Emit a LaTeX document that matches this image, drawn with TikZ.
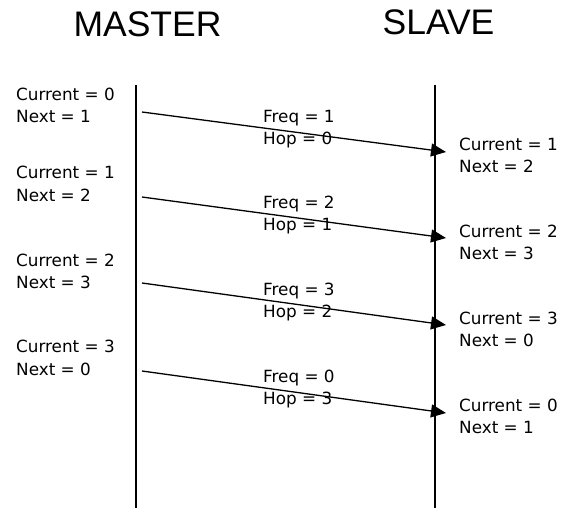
\documentclass[tikz,border=0pt]{standalone}
\usepackage{fontspec}
\setmainfont{DejaVu Sans}
\newfontfamily\titlefont{Liberation Sans}
\usetikzlibrary{arrows.meta}
\begin{document}
\begin{tikzpicture}[x=1pt,y=-1pt,
  lifeline/.style={line width=1.4pt},
  msg/.style={line width=1.3pt,-{Triangle[length=15pt,width=13pt]}},
  title/.style={font=\titlefont\fontsize{35.5}{40}\selectfont,inner sep=0pt,anchor=base},
  lbl/.style={font=\fontsize{16.8}{20}\selectfont,inner sep=0pt,anchor=base west}]
\useasboundingbox (0,0) rectangle (561,508);
% column titles
\node[title] (master) at (147.5,37) {MASTER};
\node[title] (slave) at (438.5,35) {SLAVE};
% lifelines
\coordinate (mtop) at (136,85);
\coordinate (mbot) at (136,508);
\coordinate (stop) at (435,85);
\coordinate (sbot) at (435,508);
\draw[lifeline] (mtop) -- (mbot);
\draw[lifeline] (stop) -- (sbot);
% master state
\node[lbl] (mc0) at (16,100) {Current = 0};
\node[lbl] (mn0) at (16,122) {Next = 1};
\node[lbl] (mc1) at (16,178) {Current = 1};
\node[lbl] (mn1) at (16,201) {Next = 2};
\node[lbl] (mc2) at (16,266) {Current = 2};
\node[lbl] (mn2) at (16,288) {Next = 3};
\node[lbl] (mc3) at (16,352) {Current = 3};
\node[lbl] (mn3) at (16,375) {Next = 0};
% slave state
\node[lbl] (sc0) at (459,150) {Current = 1};
\node[lbl] (sn0) at (459,172) {Next = 2};
\node[lbl] (sc1) at (459,237) {Current = 2};
\node[lbl] (sn1) at (459,259) {Next = 3};
\node[lbl] (sc2) at (459,324) {Current = 3};
\node[lbl] (sn2) at (459,346) {Next = 0};
\node[lbl] (sc3) at (459,411) {Current = 0};
\node[lbl] (sn3) at (459,433) {Next = 1};
% message contents
\node[lbl] (f0) at (263,122) {Freq = 1};
\node[lbl] (h0) at (263,144) {Hop = 0};
\node[lbl] (f1) at (263,208) {Freq = 2};
\node[lbl] (h1) at (263,230) {Hop = 1};
\node[lbl] (f2) at (263,295) {Freq = 3};
\node[lbl] (h2) at (263,317) {Hop = 2};
\node[lbl] (f3) at (263,382) {Freq = 0};
\node[lbl] (h3) at (263,404) {Hop = 3};
% hop messages
\coordinate (a0) at (142,112); \coordinate (b0) at (446,152);
\coordinate (a1) at (142,197); \coordinate (b1) at (446,238);
\coordinate (a2) at (142,283); \coordinate (b2) at (446,325);
\coordinate (a3) at (142,371); \coordinate (b3) at (446,413);
\foreach \i in {0,...,3}{\draw[msg] (a\i) -- (b\i);}
\end{tikzpicture}
\end{document}
